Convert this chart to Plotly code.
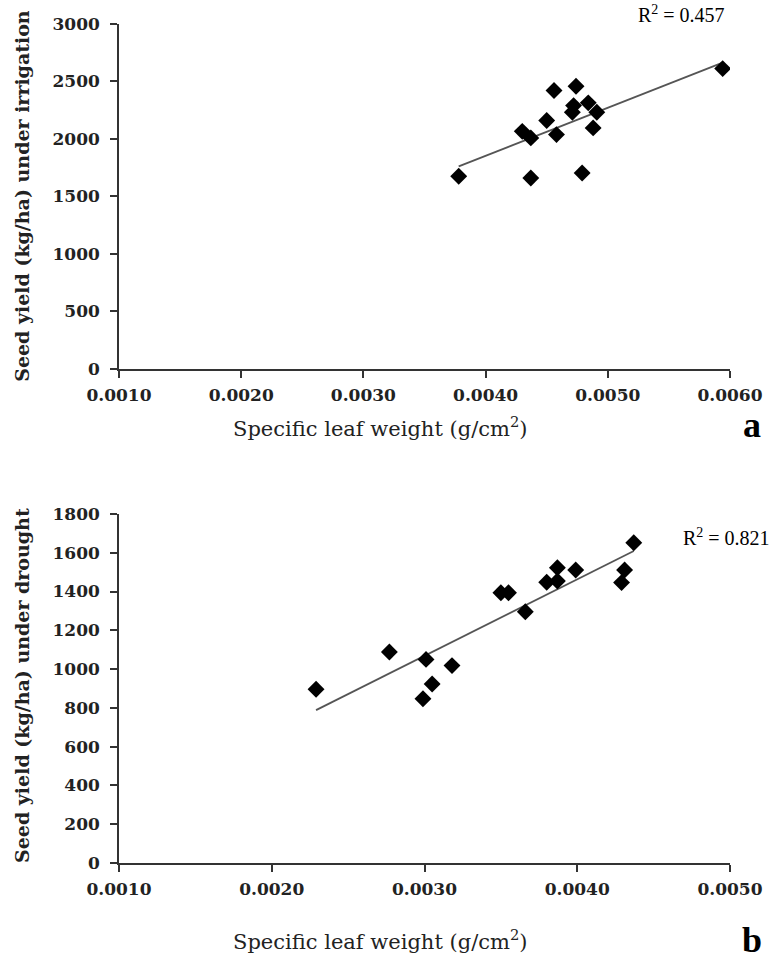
import numpy as np
import plotly.graph_objects as go

# Panel a: irrigation
slw_irr = [0.00378, 0.00437, 0.00479, 0.00430, 0.00437, 0.00450, 0.00458, 0.00456,
           0.00474, 0.00472, 0.00471, 0.00484, 0.00491, 0.00488, 0.00594]
yield_irr = [1675, 1660, 1704, 2066, 2009, 2160, 2038, 2421,
             2458, 2290, 2232, 2314, 2232, 2096, 2612]
r2_irr = "R<sup>2</sup> = 0.457"

# Panel b: drought
slw_dr = [0.00229, 0.00277, 0.00301, 0.00305, 0.00299, 0.00318, 0.00350, 0.00355,
          0.00366, 0.00380, 0.00387, 0.00387, 0.00399, 0.00429, 0.00431, 0.00437]
yield_dr = [896, 1088, 1050, 923, 847, 1018, 1394, 1394,
            1296, 1448, 1454, 1523, 1511, 1446, 1511, 1652]
r2_dr = "R<sup>2</sup> = 0.821"

x_ticks_a = [0.001, 0.002, 0.003, 0.004, 0.005, 0.006]
x_ticks_b = [0.001, 0.002, 0.003, 0.004, 0.005]

def fit_line(x, y):
    k, b = np.polyfit(x, y, 1)
    xs = np.array([min(x), max(x)])
    return xs, k * xs + b

fa_x, fa_y = fit_line(slw_irr, yield_irr)
fb_x, fb_y = fit_line(slw_dr, yield_dr)

fig = go.Figure()
mk = dict(symbol="diamond", size=13, color="black")
fig.add_trace(go.Scatter(x=fa_x, y=fa_y, mode="lines", line=dict(color="#555555", width=1.8),
                         xaxis="x", yaxis="y", showlegend=False))
fig.add_trace(go.Scatter(x=slw_irr, y=yield_irr, mode="markers", marker=mk,
                         xaxis="x", yaxis="y", showlegend=False))
fig.add_trace(go.Scatter(x=fb_x, y=fb_y, mode="lines", line=dict(color="#555555", width=1.8),
                         xaxis="x2", yaxis="y2", showlegend=False))
fig.add_trace(go.Scatter(x=slw_dr, y=yield_dr, mode="markers", marker=mk,
                         xaxis="x2", yaxis="y2", showlegend=False))

tickfont = dict(family="DejaVu Serif", size=17, color="#222222", weight="bold")
axcommon = dict(showgrid=False, zeroline=False, showline=True, linecolor="#333333",
                linewidth=1.5, ticks="outside", ticklen=7, tickwidth=1.5,
                tickcolor="#333333", tickfont=tickfont)

fig.update_layout(
    width=774, height=961,
    margin=dict(l=119, r=44, t=24, b=98),
    paper_bgcolor="white", plot_bgcolor="white",
    xaxis=dict(domain=[0, 1], anchor="y", range=[0.001, 0.006], tickvals=x_ticks_a,
               tickformat=".4f", ticklabelstandoff=3, **axcommon),
    yaxis=dict(domain=[0.589, 1], anchor="x", range=[0, 3000], dtick=500,
               ticklabelstandoff=7, **axcommon),
    xaxis2=dict(domain=[0, 1], anchor="y2", range=[0.001, 0.005], tickvals=x_ticks_b,
                tickformat=".4f", ticklabelstandoff=3, **axcommon),
    yaxis2=dict(domain=[0, 0.416], anchor="x2", range=[0, 1800], dtick=200,
                ticklabelstandoff=7, **axcommon),
)

xt_font = dict(family="DejaVu Serif", size=21, color="#222222")
yt_font = dict(family="DejaVu Serif", size=19, color="#222222", weight="bold")
r2_font = dict(family="Liberation Serif", size=20, color="black")
lab_font = dict(family="Liberation Serif", size=36, color="black", weight="bold")

ann = [
    dict(text="Specific leaf weight (g/cm<sup>2</sup>)", x=0.427, y=0.5197, font=xt_font),
    dict(text="Specific leaf weight (g/cm<sup>2</sup>)", x=0.427, y=-0.0918, font=xt_font),
    dict(text="Seed yield (kg/ha) under irrigation", x=-0.159, y=0.795, textangle=-90, font=yt_font),
    dict(text="Seed yield (kg/ha) under drought", x=-0.159, y=0.212, textangle=-90, font=yt_font),
    dict(text=r2_irr, x=0.92, y=1.012, font=r2_font),
    dict(text=r2_dr, x=0.995, y=0.389, font=r2_font),
    dict(text="a", x=1.036, y=0.522, font=lab_font),
    dict(text="b", x=1.036, y=-0.0918, font=lab_font),
]
for a in ann:
    fig.add_annotation(xref="paper", yref="paper", showarrow=False,
                       xanchor="center", yanchor="middle", **a)

fig.write_html("out.html", config={"displayModeBar": False},
               post_script="document.body.style.margin='0';document.body.style.overflow='hidden';")
